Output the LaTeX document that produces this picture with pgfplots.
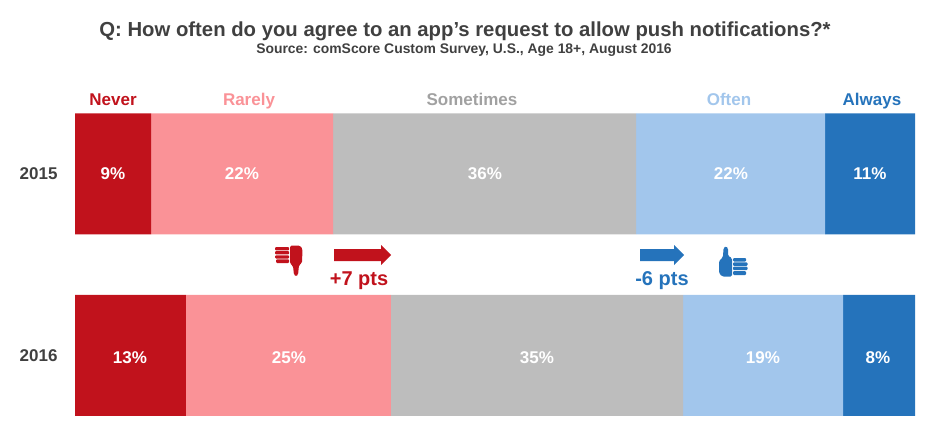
\documentclass[border=0pt]{standalone}
\usepackage{pgfplots}
\pgfplotsset{compat=1.18}
\usepackage{fontspec}
\setmainfont{Liberation Sans}
\definecolor{cnever}{HTML}{C1121C}
\definecolor{crarely}{HTML}{FA9297}
\definecolor{csome}{HTML}{BDBDBD}
\definecolor{coften}{HTML}{A2C6EC}
\definecolor{calways}{HTML}{2573BB}
\definecolor{ctitle}{HTML}{404040}
\begin{document}
\begin{tikzpicture}[x=1pt,y=1pt]
\useasboundingbox (0,0) rectangle (934,437);
\begin{axis}[
  at={(75pt,21pt)}, anchor=south west,
  scale only axis, width=840pt, height=303pt,
  xmin=0, xmax=100, ymin=-0.3344, ymax=1.3350,
  xbar stacked, bar width=121pt,
  axis line style={draw=none}, tick style={draw=none},
  xtick=\empty, ytick={0,1}, yticklabels={2016,2015},
  yticklabel style={font=\bfseries\fontsize{17}{17}\selectfont, text=ctitle, xshift=-14pt},
  clip=false,
  every axis plot/.append style={draw=none}
]
\addplot[fill=cnever] coordinates {(13.2,0) (9.05,1)};
\addplot[fill=crarely] coordinates {(24.4,0) (21.67,1)};
\addplot[fill=csome] coordinates {(34.8,0) (36.07,1)};
\addplot[fill=coften] coordinates {(19.05,0) (22.5,1)};
\addplot[fill=calways] coordinates {(8.55,0) (10.71,1)};
\end{axis}
\begin{scope}[yshift=437pt, y=-1pt, every node/.style={inner sep=0pt, anchor=base, font=\bfseries\fontsize{17}{17}\selectfont}]
% title
\node[text=ctitle, font=\bfseries\fontsize{20.3}{20.3}\selectfont] at (465,37) {Q: How often do you agree to an app’s request to allow push notifications?*};
\node[text=ctitle, font=\bfseries\fontsize{13.9}{13.9}\selectfont] at (464,54) {Source: comScore Custom Survey, U.S., Age 18+, August 2016};
% headers
\node[text=cnever] at (113,106) {Never};
\node[text=crarely] at (249,106) {Rarely};
\node[text=csome!85!black] at (472,106) {Sometimes};
\node[text=coften] at (729,106) {Often};
\node[text=calways] at (872,106) {Always};
% data labels
\foreach \x/\t in {113/9\%,242/22\%,485/36\%,731/22\%,870/11\%}
  \node[text=white] at (\x,180) {\t};
\foreach \x/\t in {130/13\%,289/25\%,537/35\%,763/19\%,878/8\%}
  \node[text=white] at (\x,363) {\t};
% arrows
\fill[cnever] (334,249)--(381,249)--(381,245)--(391,255)--(381,265)--(381,261)--(334,261)--cycle;
\fill[calways] (640,249)--(674,249)--(674,245)--(684,255)--(674,265)--(674,261)--(640,261)--cycle;
\node[text=cnever, font=\bfseries\fontsize{20}{20}\selectfont] at (359,285) {+7 pts};
\node[text=calways, font=\bfseries\fontsize{20}{20}\selectfont] at (662,285) {-6 pts};
% thumb down
\fill[cnever, rounded corners=1.5pt] (290,245.5)--(300,245.5)--(302.5,249)--(302,263)--(299,265)--(298,275)--(296,276.5)--(294,275)--(293,266)--(290,263.5)--cycle;
\fill[cnever, rounded corners=1pt] (275,247) rectangle (289.2,250.3);
\fill[cnever, rounded corners=1pt] (275,251.2) rectangle (289.2,254.4);
\fill[cnever, rounded corners=1pt] (275,255.3) rectangle (289.2,258.5);
\fill[cnever, rounded corners=1pt] (276,259.4) rectangle (289.2,263);
% thumb up
\fill[calways, rounded corners=1.5pt] (732,276.5)--(722,276.5)--(719,273)--(719,261)--(723,257)--(723.5,248)--(726,246)--(728,248)--(728,256)--(732,258)--cycle;
\fill[calways, rounded corners=1pt] (733,258) rectangle (746,261.5);
\fill[calways, rounded corners=1pt] (733,262.4) rectangle (747.5,265.8);
\fill[calways, rounded corners=1pt] (733,266.7) rectangle (747.5,270.2);
\fill[calways, rounded corners=1pt] (733,271.1) rectangle (746,275);
\end{scope}
\end{tikzpicture}
\end{document}
